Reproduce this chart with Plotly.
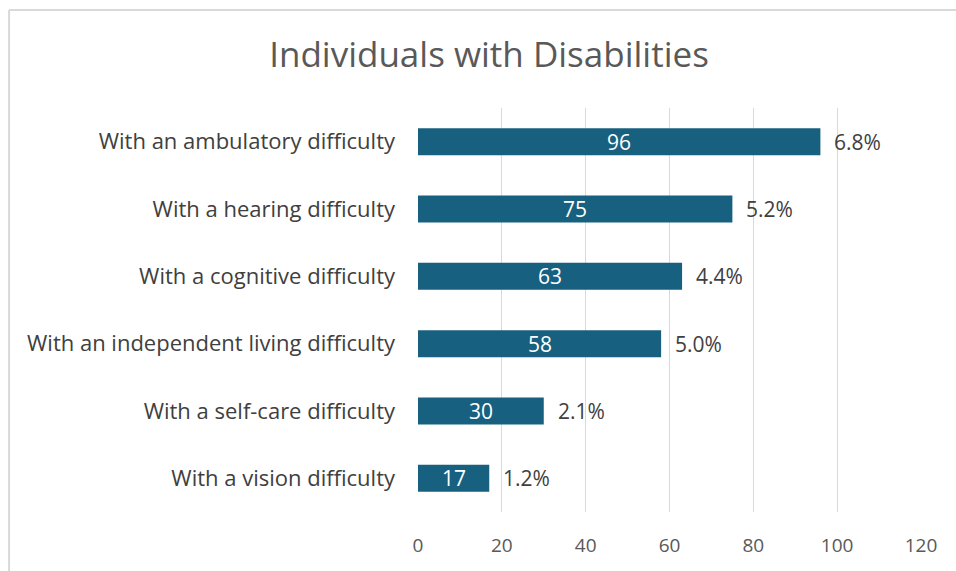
import plotly.graph_objects as go

categories = [
    "With a vision difficulty",
    "With a self-care difficulty",
    "With an independent living difficulty",
    "With a cognitive difficulty",
    "With a hearing difficulty",
    "With an ambulatory difficulty",
]
counts = [17, 30, 58, 63, 75, 96]
shares = ["1.2%", "2.1%", "5.0%", "4.4%", "5.2%", "6.8%"]
x_ticks = [0, 20, 40, 60, 80, 100, 120]

BAR = "#17607f"
FONT = "Open Sans"

fig = go.Figure(
    go.Bar(
        x=counts,
        y=categories,
        orientation="h",
        marker=dict(color=BAR, line=dict(width=0)),
        width=0.4,
        textposition="none",
        cliponaxis=False,
    )
)

for c, cat, s in zip(counts, categories, shares):
    # value centred inside the bar
    fig.add_annotation(
        x=c / 2, y=cat, text=str(c), showarrow=False,
        xanchor="center",
        font=dict(color="white", size=21, family=FONT),
    )
    # percentage just past the end of the bar
    fig.add_annotation(
        x=c, y=cat, text=s, showarrow=False,
        xanchor="left", xshift=12,
        font=dict(color="#404040", size=21, family=FONT),
    )

# chart frame (top and left edges)
fig.add_shape(type="line", xref="paper", yref="paper",
              x0=-0.813, x1=1.2, y0=1.2426, y1=1.2426,
              line=dict(color="#d9d9d9", width=2))
fig.add_shape(type="line", xref="paper", yref="paper",
              x0=-0.813, x1=-0.813, y0=1.2426, y1=-0.3,
              line=dict(color="#d9d9d9", width=2))

fig.update_layout(
    width=956, height=571,
    margin=dict(l=418, r=35, t=108, b=59),
    paper_bgcolor="white", plot_bgcolor="white",
    showlegend=False,
    title=dict(text="Individuals with Disabilities", x=0.5115, xref="container",
               xanchor="center", y=0.904, yanchor="middle",
               font=dict(size=35, color="#595959", family=FONT)),
    xaxis=dict(range=[0, 120], tickvals=x_ticks, showgrid=True,
               gridcolor="#d9d9d9", gridwidth=1, zeroline=False,
               showline=False, ticks="", ticklabelstandoff=20,
               tickfont=dict(size=19, color="#595959", family=FONT),
               fixedrange=True),
    yaxis=dict(showgrid=False, showline=False, ticks="",
               ticklabelstandoff=22,
               tickfont=dict(size=22, color="#404040", family=FONT)),
)

fig.write_html("out.html")
